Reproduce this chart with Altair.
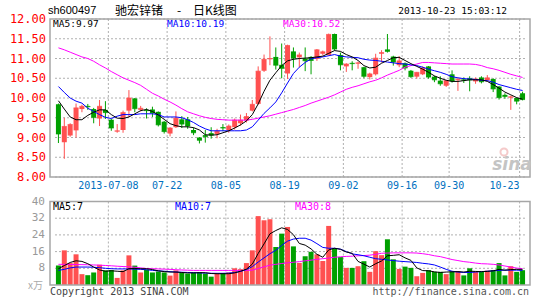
import altair as alt
import pandas as pd

# ---------------- data ----------------
tick_index = [9, 19, 29, 39, 49, 59, 67, 79]
tick_labels = ["2013-07-08", "07-22", "08-05", "08-19", "09-02", "09-16", "09-30", "10-23"]

opens = [9.84, 8.88, 9.05, 9.18, 9.72, 9.80, 9.72, 9.48, 9.70, 9.45,
         9.15, 9.19, 9.68, 9.99, 9.70, 9.70, 9.71, 9.65, 9.40, 9.10,
         9.26, 9.46, 9.46, 9.19, 9.00, 9.06, 9.11, 9.09, 9.26, 9.19,
         9.26, 9.36, 9.43, 9.68, 9.85, 10.69, 10.98, 11.04, 10.84, 10.62,
         11.18, 11.03, 11.00, 11.04, 10.99, 11.12, 11.09, 11.62, 11.09, 10.80,
         10.89, 10.87, 10.78, 10.53, 10.60, 11.12, 11.23, 11.05, 10.83, 10.88,
         10.69, 10.54, 10.60, 10.80, 10.54, 10.44, 10.31, 10.60, 10.45, 10.47,
         10.50, 10.42, 10.52, 10.45, 10.48, 10.29, 10.08, 10.01, 10.00, 10.12]
closes = [9.09, 9.28, 9.33, 9.75, 9.79, 9.78, 9.51, 9.79, 9.63, 9.24,
          9.17, 9.63, 10.00, 9.73, 9.74, 9.68, 9.62, 9.32, 9.15, 9.24,
          9.49, 9.34, 9.29, 9.12, 8.93, 9.02, 9.06, 9.16, 9.24, 9.29,
          9.44, 9.44, 9.53, 9.84, 10.68, 10.98, 11.00, 10.83, 10.75, 11.33,
          11.01, 11.09, 10.94, 10.95, 11.22, 11.17, 11.61, 11.24, 10.84, 10.86,
          10.87, 10.89, 10.55, 10.61, 11.01, 11.15, 11.18, 10.91, 10.94, 10.76,
          10.54, 10.65, 10.76, 10.53, 10.46, 10.36, 10.44, 10.43, 10.47, 10.45,
          10.46, 10.48, 10.41, 10.51, 10.23, 10.01, 10.04, 10.03, 9.92, 9.96]
highs = [9.86, 9.50, 9.36, 9.86, 9.83, 9.85, 9.75, 9.95, 9.92, 9.47,
         9.34, 9.68, 10.20, 10.00, 9.80, 9.74, 9.78, 9.66, 9.42, 9.26,
         9.66, 9.54, 9.52, 9.25, 9.01, 9.19, 9.26, 9.22, 9.34, 9.33,
         9.48, 9.58, 9.62, 9.95, 10.80, 11.10, 11.56, 11.28, 11.38, 11.35,
         11.28, 11.15, 11.28, 11.06, 11.24, 11.20, 11.63, 11.63, 11.15, 10.88,
         10.93, 10.92, 10.79, 10.64, 11.12, 11.21, 11.62, 11.07, 11.06, 10.90,
         10.71, 10.66, 10.80, 10.81, 10.56, 10.55, 10.45, 10.70, 10.52, 10.52,
         10.55, 10.52, 10.55, 10.58, 10.50, 10.30, 10.12, 10.06, 10.01, 10.16]
lows = [8.86, 8.46, 9.02, 9.00, 9.64, 9.70, 9.36, 9.29, 9.47, 9.17,
        9.12, 9.12, 9.52, 9.64, 9.66, 9.48, 9.52, 9.28, 9.10, 9.03,
        9.24, 9.24, 9.22, 9.06, 8.85, 8.87, 8.97, 8.98, 9.16, 9.12,
        9.20, 9.30, 9.38, 9.66, 9.83, 10.66, 10.83, 10.72, 10.50, 10.48,
        10.77, 10.78, 10.68, 10.60, 10.94, 11.08, 11.07, 11.20, 10.70, 10.66,
        10.70, 10.74, 10.50, 10.47, 10.57, 10.90, 11.15, 10.82, 10.78, 10.70,
        10.51, 10.49, 10.58, 10.49, 10.40, 10.31, 10.28, 10.39, 10.18, 10.38,
        10.17, 10.36, 10.37, 10.43, 10.15, 9.96, 9.98, 9.70, 9.84, 9.94]
volumes = [9.4, 16.6, 10.5, 14.7, 5.2, 4.7, 6.0, 9.7, 7.0, 7.2,
           3.4, 7.0, 14.2, 9.3, 6.0, 7.4, 6.0, 6.5, 6.0, 4.5,
           7.0, 6.0, 5.5, 6.0, 6.2, 5.5, 4.0, 5.5, 5.7, 6.0,
           8.0, 7.6, 10.5, 16.6, 33.0, 31.0, 31.5, 18.2, 24.6, 27.8,
           18.5, 10.6, 13.8, 15.9, 14.7, 11.5, 28.3, 17.7, 13.4, 8.2,
           8.2, 9.0, 11.4, 6.3, 16.2, 14.3, 21.9, 12.3, 7.7, 8.8,
           8.2, 4.2, 5.8, 7.1, 6.3, 6.3, 5.2, 6.6, 6.7, 4.6,
           8.0, 6.4, 6.4, 6.9, 7.1, 10.5, 4.6, 9.0, 6.3, 7.1]
ma5 = [9.93, 9.72, 9.52, 9.45, 9.45, 9.56, 9.64, 9.70, 9.70, 9.58,
       9.49, 9.48, 9.52, 9.60, 9.68, 9.71, 9.66, 9.57, 9.46, 9.35,
       9.30, 9.27, 9.27, 9.25, 9.19, 9.07, 9.06, 9.07, 9.12, 9.17,
       9.24, 9.32, 9.42, 9.58, 9.85, 10.17, 10.45, 10.64, 10.82, 10.94,
       10.98, 11.00, 11.01, 11.02, 11.04, 11.06, 11.13, 11.20, 11.18, 11.10,
       11.04, 10.95, 10.82, 10.76, 10.78, 10.88, 10.95, 11.02, 11.03, 10.95,
       10.87, 10.80, 10.73, 10.65, 10.56, 10.50, 10.45, 10.42, 10.42, 10.44,
       10.46, 10.46, 10.46, 10.42, 10.34, 10.25, 10.15, 10.08, 10.01, 9.97]
ma10 = [10.29, 10.14, 10.00, 9.92, 9.87, 9.74, 9.66, 9.58, 9.51, 9.48,
        9.54, 9.58, 9.58, 9.58, 9.60, 9.60, 9.60, 9.58, 9.52, 9.52,
        9.52, 9.50, 9.45, 9.38, 9.29, 9.22, 9.17, 9.17, 9.17, 9.17,
        9.17, 9.17, 9.19, 9.27, 9.44, 9.61, 9.75, 9.90, 10.13, 10.38,
        10.62, 10.78, 10.90, 10.99, 11.02, 11.04, 11.07, 11.10, 11.06, 11.04,
        11.03, 11.02, 10.98, 10.96, 10.95, 10.93, 10.91, 10.89, 10.87, 10.86,
        10.84, 10.82, 10.78, 10.73, 10.69, 10.65, 10.60, 10.54, 10.51, 10.49,
        10.48, 10.47, 10.45, 10.44, 10.40, 10.34, 10.30, 10.26, 10.22, 10.19]
ma30 = [11.27, 11.22, 11.16, 11.10, 11.04, 11.00, 10.93, 10.84, 10.76, 10.67,
        10.59, 10.51, 10.45, 10.39, 10.32, 10.22, 10.12, 10.05, 9.97, 9.90,
        9.82, 9.73, 9.65, 9.60, 9.55, 9.51, 9.48, 9.46, 9.45, 9.44,
        9.44, 9.44, 9.44, 9.46, 9.49, 9.52, 9.55, 9.59, 9.63, 9.67,
        9.71, 9.76, 9.81, 9.87, 9.92, 9.97, 10.02, 10.08, 10.15, 10.22,
        10.27, 10.31, 10.36, 10.41, 10.45, 10.51, 10.58, 10.64, 10.70, 10.78,
        10.82, 10.86, 10.90, 10.90, 10.89, 10.88, 10.87, 10.86, 10.86, 10.86,
        10.86, 10.85, 10.82, 10.77, 10.74, 10.70, 10.65, 10.60, 10.56, 10.52]
vma5 = [7.8, 9.3, 10.8, 11.6, 11.3, 10.2, 8.6, 7.2, 6.6, 6.8,
        6.6, 6.4, 7.8, 7.9, 7.8, 7.8, 7.4, 6.8, 6.4, 6.2,
        6.2, 6.0, 5.8, 5.8, 5.9, 5.9, 5.5, 5.4, 5.4, 5.4,
        5.8, 6.6, 7.6, 10.0, 15.1, 19.7, 24.5, 26.1, 27.4, 26.6,
        24.1, 19.9, 19.1, 17.3, 14.7, 13.3, 16.8, 17.6, 17.1, 15.8,
        15.2, 11.3, 10.0, 8.6, 10.2, 11.5, 14.0, 14.2, 14.5, 13.0,
        11.8, 8.2, 6.9, 6.8, 6.3, 6.0, 6.2, 6.3, 6.4, 6.2,
        6.6, 6.5, 6.4, 6.5, 6.8, 7.5, 7.1, 7.4, 7.5, 7.5]
vma10 = [7.0, 7.5, 8.2, 8.6, 8.6, 8.6, 8.5, 8.3, 8.0, 7.8,
         7.7, 7.7, 7.7, 7.6, 7.5, 7.3, 7.0, 6.8, 6.6, 6.4,
         6.2, 6.1, 6.0, 5.9, 5.8, 5.7, 5.6, 5.6, 5.6, 5.7,
         6.0, 6.5, 7.4, 8.8, 11.0, 13.0, 15.0, 16.6, 19.0, 21.0,
         22.0, 22.4, 22.4, 21.5, 19.8, 18.0, 17.6, 17.6, 17.2, 16.0,
         14.9, 14.5, 14.0, 13.3, 12.6, 12.3, 12.0, 11.7, 11.4, 11.2,
         11.0, 10.8, 10.4, 10.1, 9.6, 8.6, 7.5, 6.6, 6.2, 6.0,
         6.0, 6.2, 6.4, 6.6, 6.8, 7.0, 7.1, 7.1, 7.1, 7.0]
vma30 = [9.9, 9.9, 9.85, 9.8, 9.75, 9.7, 9.6, 9.5, 9.35, 9.2,
         9.0, 8.85, 8.7, 8.5, 8.2, 7.9, 7.8, 7.7, 7.6, 7.5,
         7.3, 7.2, 7.1, 7.0, 7.0, 7.0, 7.0, 7.0, 7.0, 7.0,
         7.0, 7.0, 7.0, 7.1, 7.9, 8.7, 9.5, 9.9, 10.3, 10.6,
         10.9, 11.2, 11.6, 11.9, 12.3, 12.6, 12.9, 13.3, 13.5, 13.7,
         13.8, 14.0, 14.1, 14.3, 14.7, 15.2, 15.3, 15.4, 15.4, 15.4,
         15.4, 15.3, 15.0, 14.6, 14.0, 13.6, 12.9, 12.2, 11.7, 11.2,
         10.9, 10.5, 10.2, 10.1, 9.9, 9.6, 9.1, 8.6, 8.1, 7.8]

title_code = "sh600497"
title_name = ["驰宏锌锗", "-", "日K线图"]
title_time = "2013-10-23 15:03:12"
price_ma_labels = ["MA5:9.97", "MA10:10.19", "MA30:10.52"]
vol_ma_labels = ["MA5:7", "MA10:7", "MA30:8"]
unit_label = "x万"
copyright_label = "Copyright 2013 SINA.COM"
url_label = "http://finance.sina.com.cn"
price_ticks = [8.0, 8.5, 9.0, 9.5, 10.0, 10.5, 11.0, 11.5, 12.0]
vol_ticks = [0, 8, 16, 24, 32, 40]

# ---------------- styling / layout ----------------
RED = "#ff5050"
GREEN = "#00a000"
GRID = "#b0b0b0"
FRAME = "#a6a6a6"
MONO = "DejaVu Sans Mono"
W = 480
P_H = 158          # price panel height
V_TOP = 182.5      # volume panel top (inside the single plot area)
V_BOT = 266        # volume panel bottom

n = len(opens)
df = pd.DataFrame({
    "i": list(range(n)), "open": opens, "close": closes, "high": highs, "low": lows,
    "vol": volumes, "ma5": ma5, "ma10": ma10, "ma30": ma30,
    "vma5": vma5, "vma10": vma10, "vma30": vma30,
})
df["dir"] = ["up" if c > o else "down" for o, c in zip(opens, closes)]

x0 = -3.5 / 6.0
x1 = x0 + n

gpos = [t - 0.5 for t in tick_index]
grid_df = pd.DataFrame({"g": gpos, "lab": tick_labels})
grid_df["ptop"] = price_ticks[-1]
grid_df["pbot"] = price_ticks[0]
grid_df["vtop"] = vol_ticks[-1]
grid_df["vbot"] = vol_ticks[0]
date_df = grid_df.iloc[:-1]
date_last = grid_df.iloc[-1:]
pt_df = pd.DataFrame({"v": price_ticks})
pt_df["xa"] = x0
pt_df["xb"] = x1
vt_df = pd.DataFrame({"v": vol_ticks[1:]})
vt_df["xa"] = x0
vt_df["xb"] = x1

xs = alt.Scale(domain=[x0, x1], nice=False, zero=False)
ys = alt.Scale(domain=[8, 12], range=[P_H, 0], nice=False, zero=False)
vs = alt.Scale(domain=[0, 40], range=[V_BOT, V_TOP], nice=False, zero=False)
cs = alt.Color("dir:N", scale=alt.Scale(domain=["up", "down"], range=[RED, GREEN]), legend=None)


def X():
    return alt.X("i:Q", scale=xs, axis=None)


base = alt.Chart(df)
dash = dict(color=GRID, strokeDash=[2, 2], strokeWidth=1)

# grid lines: fields through the scales
vgrid_p = alt.Chart(grid_df).mark_rule(**dash).encode(
    x=alt.X("g:Q", scale=xs, axis=None),
    y=alt.Y("ptop:Q", scale=ys, axis=None), y2="pbot:Q")
hgrid_p = alt.Chart(pt_df).mark_rule(**dash).encode(
    y=alt.Y("v:Q", scale=ys, axis=None),
    x=alt.X("xa:Q", scale=xs, axis=None), x2="xb:Q")
vgrid_v = alt.Chart(grid_df).mark_rule(**dash).encode(
    x=alt.X("g:Q", scale=xs, axis=None),
    y=alt.Y("vtop:Q", scale=vs, axis=None), y2="vbot:Q")
hgrid_v = alt.Chart(vt_df).mark_rule(**dash).encode(
    y=alt.Y("v:Q", scale=vs, axis=None),
    x=alt.X("xa:Q", scale=xs, axis=None), x2="xb:Q")

# candles
wicks = base.mark_rule(strokeWidth=1).encode(
    x=X(), y=alt.Y("low:Q", scale=ys, axis=None), y2="high:Q", color=cs)
bodies = base.mark_bar(width=5).encode(
    x=X(), y=alt.Y("open:Q", scale=ys, axis=None), y2="close:Q", color=cs)
flat = base.mark_tick(orient="horizontal", size=5, thickness=1).encode(
    x=X(), y=alt.Y("close:Q", scale=ys, axis=None), color=cs)
l5 = base.mark_line(color="#000000", strokeWidth=1).encode(x=X(), y=alt.Y("ma5:Q", scale=ys, axis=None))
l10 = base.mark_line(color="#0000ff", strokeWidth=1).encode(x=X(), y=alt.Y("ma10:Q", scale=ys, axis=None))
l30 = base.mark_line(color="#ff00ff", strokeWidth=1).encode(x=X(), y=alt.Y("ma30:Q", scale=ys, axis=None))

# volume
vbars = base.mark_bar(width=5).encode(
    x=X(), y=alt.Y("vol:Q", scale=vs, axis=None), y2=alt.datum(0), color=cs)
v5 = base.mark_line(color="#000000", strokeWidth=1).encode(x=X(), y=alt.Y("vma5:Q", scale=vs, axis=None))
v10 = base.mark_line(color="#0000ff", strokeWidth=1).encode(x=X(), y=alt.Y("vma10:Q", scale=vs, axis=None))
v30 = base.mark_line(color="#ff00ff", strokeWidth=1).encode(x=X(), y=alt.Y("vma30:Q", scale=vs, axis=None))

# axis labels as text marks positioned by the scales
p_labels = alt.Chart(pt_df).mark_text(align="right", baseline="middle", color="#ff0000",
                                      font=MONO, fontSize=12).encode(
    x=alt.value(-4), y=alt.Y("v:Q", scale=ys, axis=None), text=alt.Text("v:Q", format=".2f"))
v_labels = alt.Chart(vt_df).mark_text(align="right", baseline="middle", color="#999999",
                                      font=MONO, fontSize=11).encode(
    x=alt.value(-5), y=alt.Y("v:Q", scale=vs, axis=None), text=alt.Text("v:Q", format="d"))
d_labels = alt.Chart(date_df).mark_text(align="center", baseline="middle", color="#0070c0",
                                        font=MONO, fontSize=10).encode(
    x=alt.X("g:Q", scale=xs, axis=None), y=alt.value(P_H + 9), text="lab:N")
d_last = alt.Chart(date_last).mark_text(align="right", baseline="middle", color="#0070c0",
                                        font=MONO, fontSize=10).encode(
    x=alt.X("g:Q", scale=xs, axis=None), y=alt.value(P_H + 9), text="lab:N")

# frames and texts
one = pd.DataFrame({"k": [0]})
frame_p = alt.Chart(one).mark_rect(fill="transparent", stroke=FRAME, strokeWidth=1.5).encode(
    x=alt.value(0), x2=alt.value(W), y=alt.value(0), y2=alt.value(P_H))
frame_v = alt.Chart(one).mark_rect(fill="transparent", stroke=FRAME, strokeWidth=1.5).encode(
    x=alt.value(0), x2=alt.value(W), y=alt.value(V_TOP), y2=alt.value(V_BOT))


def text(label, x, y, color="#000000", size=10, font=MONO, align="left", **kw):
    return alt.Chart(pd.DataFrame({"t": [label]})).mark_text(
        align=align, baseline="middle", color=color, fontSize=size, font=font, **kw
    ).encode(x=alt.value(x), y=alt.value(y), text="t:N")


texts = [
    text(title_code, -2, -8, size=11, font="Liberation Sans"),
    text(title_name[0], 65, -8, size=12, font="Noto Sans CJK SC"),
    text(title_name[1], 129, -8, size=12, font="Noto Sans CJK SC", align="center"),
    text(title_name[2], 143, -8, size=12, font="Noto Sans CJK SC"),
    text(title_time, 457, -8, size=9.5, align="right"),
    text(price_ma_labels[0], 3, 5, color="#000000", size=9.5),
    text(price_ma_labels[1], 117, 5, color="#0000ff", size=9.5),
    text(price_ma_labels[2], 233, 5, color="#ff00ff", size=9.5),
    text(vol_ma_labels[0], 3, V_TOP + 5, color="#000000", size=10),
    text(vol_ma_labels[1], 125, V_TOP + 5, color="#0000ff", size=10),
    text(vol_ma_labels[2], 245, V_TOP + 5, color="#ff00ff", size=10),
    text(unit_label, -7, V_BOT + 1, color="#aaaaaa", size=10, font="Noto Sans CJK SC", align="right"),
    text(copyright_label, 0, V_BOT + 7, color="#444444", size=10),
    text(url_label, 479, V_BOT + 7, color="#555555", size=10, align="right"),
    text("sina", 462, 146, color="#c4c4c4", size=17, font="DejaVu Sans", fontStyle="italic",
         fontWeight="bold", align="center"),
]
logo = alt.Chart(one).mark_point(shape="circle", size=50, color="#f2b4b4", filled=False,
                                 strokeWidth=2).encode(x=alt.value(454), y=alt.value(133))

chart = alt.layer(
    hgrid_p, vgrid_p, hgrid_v, vgrid_v,
    wicks, bodies, flat, l30, l10, l5,
    vbars, v30, v10, v5,
    p_labels, v_labels, d_labels, d_last,
    frame_p, frame_v, logo, *texts,
).resolve_scale(y="independent").properties(
    width=W, height=V_BOT,
    autosize=alt.AutoSizeParams(type="none"),
    padding={"left": 50, "top": 19, "right": 15, "bottom": 15},
    background="#ffffff",
).configure_view(stroke=None)

chart.save("out.html", embed_options={"renderer": "svg", "actions": False})
